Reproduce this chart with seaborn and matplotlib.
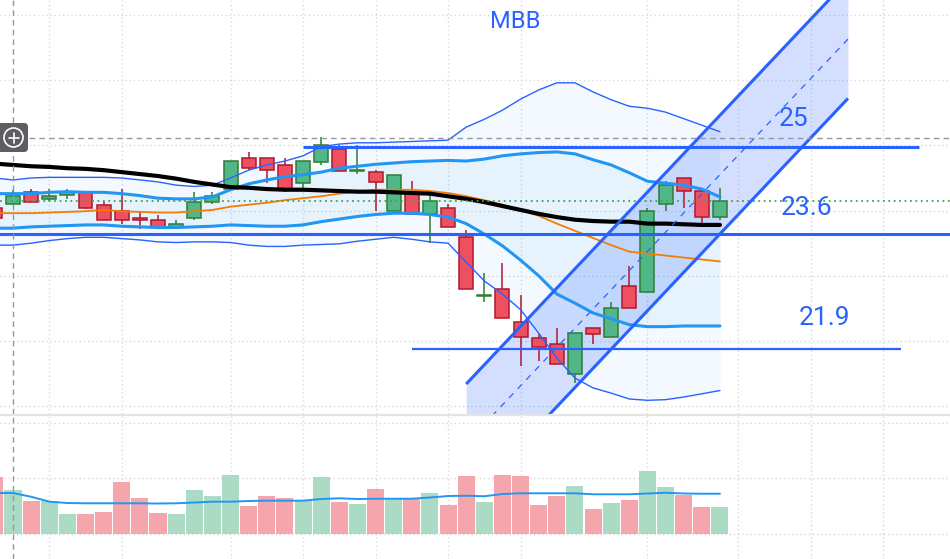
import numpy as np
import pandas as pd
import matplotlib
matplotlib.use("Agg")
import matplotlib.pyplot as plt
import seaborn as sns
from matplotlib.patches import FancyBboxPatch, Circle
from matplotlib.lines import Line2D

# ---------------- data ----------------
ticker = "MBB"
level_labels = ["25", "23.6", "21.9"]

opens  = [24.04, 24.10, 24.28, 24.18, 24.24, 24.28, 24.08, 23.99, 23.88, 23.86,
          23.75, 23.88, 24.13, 24.33, 24.80, 24.80, 24.70, 24.42, 24.75, 24.94,
          24.60, 24.59, 24.00, 24.25, 23.94, 24.04, 23.59, 22.69, 22.79, 22.29,
          22.04, 21.95, 21.50, 22.20, 22.06, 22.84, 22.75, 24.10, 24.50, 24.30, 23.90]
highs  = [24.09, 24.31, 24.33, 24.33, 24.33, 24.28, 24.13, 24.33, 23.99, 23.93,
          23.86, 24.29, 24.29, 24.76, 24.90, 24.80, 24.80, 24.76, 25.13, 25.01,
          25.01, 24.63, 24.54, 24.45, 24.25, 24.10, 23.70, 23.04, 23.20, 22.71,
          22.11, 22.20, 22.13, 22.20, 22.60, 23.15, 24.04, 24.45, 24.50, 24.34, 24.34]
lows   = [23.84, 24.09, 24.13, 24.14, 24.18, 24.03, 23.85, 23.80, 23.71, 23.75,
          23.71, 23.86, 24.10, 24.33, 24.62, 24.43, 24.29, 24.34, 24.70, 24.60,
          24.56, 24.00, 24.00, 23.94, 23.51, 23.75, 22.79, 22.60, 22.35, 21.61,
          21.70, 21.65, 21.36, 21.96, 22.06, 22.50, 22.75, 24.00, 24.04, 23.81, 23.86]
closes = [23.89, 24.22, 24.13, 24.22, 24.28, 24.04, 23.85, 23.85, 23.85, 23.75,
          23.79, 24.13, 24.22, 24.76, 24.66, 24.62, 24.31, 24.76, 25.01, 24.60,
          24.63, 24.44, 24.54, 23.94, 24.15, 23.75, 22.79, 22.71, 22.35, 22.06,
          21.90, 21.65, 22.13, 22.10, 22.50, 22.50, 23.99, 24.40, 24.30, 23.90, 24.15]

volumes = [10.14, 7.86, 5.88, 5.88, 3.54, 3.54, 3.90, 9.30, 6.42, 3.72,
           3.54, 7.86, 6.78, 10.56, 4.98, 6.78, 6.42, 6.06, 10.20, 5.70,
           5.34, 8.04, 6.19, 6.19, 7.32, 5.16, 10.38, 5.70, 10.56, 10.38,
           5.16, 6.78, 8.58, 4.44, 5.52, 6.06, 11.28, 8.40, 6.96, 4.80, 4.80]
volume_ma = [7.32, 7.32, 6.65, 5.76, 5.52, 5.47, 5.47, 5.47, 5.47, 5.43,
             5.47, 5.61, 5.76, 5.76, 5.88, 5.94, 5.94, 5.94, 6.24, 6.37,
             6.24, 6.29, 6.29, 6.29, 6.51, 6.78, 6.83, 6.73, 7.14, 7.27,
             7.27, 7.27, 7.27, 7.09, 7.09, 7.09, 7.23, 7.37, 7.23, 7.19, 7.19]

ma_long = [24.72, 24.70, 24.68, 24.67, 24.65, 24.64, 24.62, 24.59, 24.56, 24.53,
           24.49, 24.44, 24.40, 24.36, 24.35, 24.33, 24.32, 24.32, 24.31, 24.30,
           24.29, 24.29, 24.28, 24.27, 24.26, 24.22, 24.18, 24.13, 24.07, 24.01,
           23.95, 23.90, 23.86, 23.84, 23.83, 23.83, 23.80, 23.80, 23.79, 23.78, 23.78]
bb_basis = [23.96, 23.96, 23.96, 23.97, 23.98, 23.99, 24.01, 23.99, 23.98, 23.97,
            23.97, 23.99, 24.01, 24.06, 24.09, 24.12, 24.16, 24.19, 24.22, 24.26,
            24.29, 24.32, 24.32, 24.32, 24.30, 24.27, 24.22, 24.16, 24.09, 24.01,
            23.92, 23.80, 23.69, 23.58, 23.47, 23.37, 23.34, 23.31, 23.28, 23.25, 23.22]
outer_upper = [24.50, 24.47, 24.50, 24.51, 24.51, 24.51, 24.51, 24.50, 24.47, 24.44,
               24.39, 24.37, 24.39, 24.50, 24.62, 24.70, 24.76, 24.84, 24.98, 25.02,
               25.04, 25.04, 25.05, 25.06, 25.07, 25.08, 25.28, 25.40, 25.54, 25.71,
               25.85, 25.96, 25.96, 25.82, 25.70, 25.60, 25.57, 25.51, 25.41, 25.31, 25.21]
outer_lower = [23.47, 23.47, 23.50, 23.54, 23.57, 23.59, 23.59, 23.57, 23.55, 23.52,
               23.51, 23.52, 23.52, 23.51, 23.47, 23.45, 23.45, 23.47, 23.48, 23.49,
               23.53, 23.56, 23.59, 23.56, 23.52, 23.50, 23.21, 22.92, 22.72, 22.48,
               22.12, 21.74, 21.43, 21.28, 21.20, 21.11, 21.09, 21.10, 21.14, 21.19, 21.24]
inner_upper = [24.26, 24.26, 24.26, 24.28, 24.29, 24.28, 24.28, 24.26, 24.23, 24.19,
               24.18, 24.18, 24.21, 24.32, 24.41, 24.47, 24.52, 24.55, 24.59, 24.65,
               24.68, 24.71, 24.73, 24.75, 24.76, 24.77, 24.76, 24.79, 24.84, 24.87,
               24.89, 24.90, 24.87, 24.78, 24.70, 24.58, 24.45, 24.42, 24.39, 24.33, 24.21]
inner_lower = [23.73, 23.73, 23.75, 23.76, 23.77, 23.78, 23.78, 23.76, 23.75, 23.74,
               23.74, 23.75, 23.76, 23.78, 23.77, 23.76, 23.76, 23.78, 23.83, 23.87,
               23.91, 23.94, 23.96, 23.96, 23.94, 23.90, 23.80, 23.64, 23.46, 23.24,
               23.00, 22.72, 22.58, 22.43, 22.34, 22.25, 22.22, 22.22, 22.23, 22.23, 22.23]

# drawings
channel_x = [26.0, 47.06]
channel_upper = [21.34, 27.54]
channel_gap = 1.82
level_prices = [24.98, 23.64, 21.87]
level_starts = [17.0, None, 23.0]
level_ends = [51.0, None, 50.0]
label_pos = [(44.08, 25.40), (44.75, 24.04), (45.79, 22.35)]
crosshair_x = 1.0
crosshair_price = 25.12
price_grid = [21, 22, 23, 24, 25, 26, 27]
volume_grid = [0, 10, 20]
time_grid = [3, 7, 13, 17, 21, 25, 29, 36, 41, 45, 49]

# ---------------- style ----------------
sns.set_theme(style="white")
plt.rcParams['font.family'] = ['Roboto', 'DejaVu Sans']

BLUE = '#2962FF'
LIGHTBLUE = '#2196F3'
GRID = '#d9d9d9'
UP_FILL, UP_EDGE = '#52b788', '#2e7d32'
DN_FILL, DN_EDGE = '#ef5060', '#b0182a'
UP_VOL, DN_VOL = '#abdbc5', '#f5a6ac'

df = pd.DataFrame({
    'i': np.arange(len(opens)), 'open': opens, 'high': highs, 'low': lows,
    'close': closes, 'volume': volumes, 'vol_ma': volume_ma, 'ma_long': ma_long,
    'basis': bb_basis, 'ou': outer_upper, 'ol': outer_lower,
    'iu': inner_upper, 'il': inner_lower})
df['up'] = df['close'] >= df['open']

H = 559.0
fig = plt.figure(figsize=(9.5, 5.59), dpi=100)
fig.patch.set_facecolor('white')
ax = fig.add_axes([0, 1 - 414 / H, 1, 414 / H])
axv = fig.add_axes([0, 0, 1, 143.5 / H])

XLIM = (0.283, 52.69)
for a in (ax, axv):
    a.set_xlim(*XLIM)
    for s in a.spines.values():
        s.set_visible(False)
    a.set_xticks([])
    a.set_yticks([])
    a.set_facecolor('white')
    for gx in time_grid:
        a.axvline(gx, color=GRID, lw=1, ls=(0, (1, 2)), zorder=0)
ax.set_ylim(20.88, 27.23)
axv.set_ylim(-4.55, 21.26)
for gy in price_grid:
    ax.axhline(gy, color=GRID, lw=1, ls=(0, (1, 2)), zorder=0)
for gy in volume_grid:
    axv.axhline(gy, color=GRID, lw=1, ls=(0, (1, 2)), zorder=0)

# band fills
ax.fill_between(df['i'], df['ol'], df['ou'], color=LIGHTBLUE, alpha=0.05, lw=0, zorder=1)
ax.fill_between(df['i'], df['il'], df['iu'], color=LIGHTBLUE, alpha=0.06, lw=0, zorder=1)

# channel fill
cx = np.array(channel_x)
cu = np.array(channel_upper)
cl = cu - channel_gap
cm = cu - channel_gap / 2
ax.fill_between(cx, cl, cu, color=BLUE, alpha=0.2, lw=0, zorder=1.5)

# candles
for _, r in df.iterrows():
    fc, ec = (UP_FILL, UP_EDGE) if r['up'] else (DN_FILL, DN_EDGE)
    ax.vlines(r['i'], r['low'], r['high'], color=ec, lw=1.1, zorder=2)
    lo, hi = min(r['open'], r['close']), max(r['open'], r['close'])
    ax.bar(r['i'], max(hi - lo, 0.006), bottom=lo, width=0.77, color=fc,
           edgecolor=ec, linewidth=1.1, zorder=2.1)

# indicator lines
sns.lineplot(data=df, x='i', y='ou', ax=ax, color=BLUE, linewidth=1.0, zorder=3)
sns.lineplot(data=df, x='i', y='ol', ax=ax, color=BLUE, linewidth=1.0, zorder=3)
sns.lineplot(data=df, x='i', y='iu', ax=ax, color=LIGHTBLUE, linewidth=2.2, zorder=3)
sns.lineplot(data=df, x='i', y='il', ax=ax, color=LIGHTBLUE, linewidth=2.2, zorder=3)
sns.lineplot(data=df, x='i', y='basis', ax=ax, color='#F57C00', linewidth=1.3, zorder=3)
sns.lineplot(data=df, x='i', y='ma_long', ax=ax, color='black', linewidth=3.0, zorder=3.1)

# channel lines
ax.plot(cx, cu, color=BLUE, lw=2.2, zorder=3.5, solid_capstyle='butt')
ax.plot(cx, cl, color=BLUE, lw=2.2, zorder=3.5, solid_capstyle='butt')
ax.plot(cx, cm, color=BLUE, lw=0.9, ls=(0, (5, 5)), zorder=3.5)

# horizontal levels
for p, s, e, w in zip(level_prices, level_starts, level_ends, [2.2, 2.2, 1.6]):
    if s is None:
        ax.axhline(p, color=BLUE, lw=w, zorder=3.5)
    else:
        ax.hlines(p, s, e, color=BLUE, lw=w, zorder=3.5)

# last price line and crosshair
ax.axhline(closes[-1], color='#43a05a', lw=1.3, ls=(0, (1, 2)), zorder=3.2)
ax.axhline(crosshair_price, color='#9598a1', lw=1.0, ls=(0, (4, 3)), zorder=3.6)
ax.axvline(crosshair_x, color='#9598a1', lw=1.0, ls=(0, (4, 3)), zorder=3.6)
axv.axvline(crosshair_x, color='#9598a1', lw=1.0, ls=(0, (4, 3)), zorder=3.6)

# labels
for (lx, ly), t in zip(label_pos, level_labels):
    ax.text(lx, ly, t, color=BLUE, fontsize=19, ha='center', va='center', zorder=5)
fig.text(515 / 950, 1 - 22 / H, ticker, color=BLUE, fontsize=17, ha='center', va='center')

# volume pane
axv.bar(df['i'], df['volume'], width=0.94,
        color=[UP_VOL if u else DN_VOL for u in df['up']], linewidth=0, zorder=1)
sns.lineplot(data=df, x='i', y='vol_ma', ax=axv, color=LIGHTBLUE, linewidth=1.4, zorder=2)

for a in (ax, axv):
    a.set_xlabel('')
    a.set_ylabel('')
    if a.get_legend():
        a.get_legend().remove()

# pane separator
fig.add_artist(Line2D([0, 1], [1 - 414.7 / H] * 2, transform=fig.transFigure,
                      color='#e4e4e4', lw=1.6))

# zoom icon
tr = fig.dpi_scale_trans
fig.add_artist(FancyBboxPatch((-0.10, (H - 152) / 100), 0.38, 0.29,
                              boxstyle='round,pad=0,rounding_size=0.04',
                              fc='#5c5e64', ec='none', transform=tr, zorder=10))
cy = (H - 137.5) / 100
fig.add_artist(Circle((0.135, cy), 0.095, fc='none', ec='white', lw=1.2,
                      transform=tr, zorder=11))
fig.add_artist(Line2D([0.085, 0.185], [cy, cy], color='white', lw=1.2, transform=tr, zorder=11))
fig.add_artist(Line2D([0.135, 0.135], [cy - 0.05, cy + 0.05], color='white', lw=1.2,
                      transform=tr, zorder=11))

fig.savefig('out.png', dpi=100, facecolor='white')
